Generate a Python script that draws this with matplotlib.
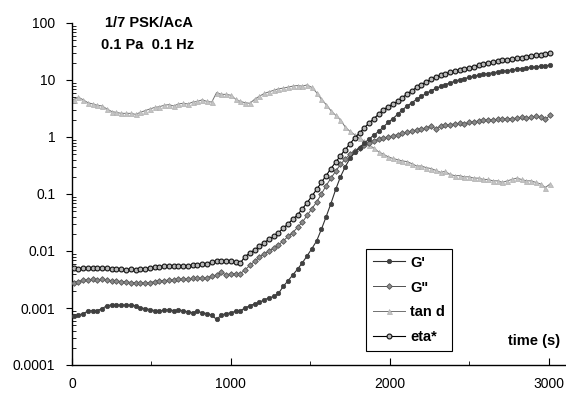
import matplotlib
matplotlib.use("Agg")
import matplotlib.pyplot as plt
from matplotlib.ticker import LogLocator, FixedLocator, NullFormatter

# --------------------------
# Data
# --------------------------
time_s = [10, 40, 70, 100, 130, 160, 190, 220, 250, 280,
          310, 340, 370, 400, 430, 460, 490, 520, 550, 580,
          610, 640, 670, 700, 730, 760, 790, 820, 850, 880,
          910, 940, 970, 1000, 1030, 1060, 1090, 1120, 1150, 1180,
          1210, 1240, 1270, 1300, 1330, 1360, 1390, 1420, 1450, 1480,
          1510, 1540, 1570, 1600, 1630, 1660, 1690, 1720, 1750, 1780,
          1810, 1840, 1870, 1900, 1930, 1960, 1990, 2020, 2050, 2080,
          2110, 2140, 2170, 2200, 2230, 2260, 2290, 2320, 2350, 2380,
          2410, 2440, 2470, 2500, 2530, 2560, 2590, 2620, 2650, 2680,
          2710, 2740, 2770, 2800, 2830, 2860, 2890, 2920, 2950, 2980,
          3010]

g_prime = [0.00072, 0.00075, 0.0008, 0.00088, 0.0009, 0.0009, 0.00098, 0.0011, 0.00113, 0.00113,
           0.00112, 0.00113, 0.00112, 0.0011, 0.001, 0.00098, 0.00094, 0.0009, 0.00088, 0.00092,
           0.00093, 0.0009, 0.00092, 0.0009, 0.00085, 0.00083, 0.00088, 0.00082, 0.0008, 0.00075,
           0.00063, 0.00075, 0.0008, 0.00082, 0.00088, 0.0009, 0.001, 0.0011, 0.00118, 0.00125,
           0.0014, 0.0015, 0.0016, 0.0018, 0.0024, 0.003, 0.0038, 0.0048, 0.0062, 0.0082,
           0.011, 0.015, 0.024, 0.04, 0.068, 0.12, 0.2, 0.3, 0.42, 0.54,
           0.65, 0.78, 0.92, 1.08, 1.25, 1.5, 1.8, 2.1, 2.5, 3.0,
           3.5, 4.0, 4.6, 5.2, 5.8, 6.5, 7.1, 7.7, 8.3, 8.9,
           9.5, 10.1, 10.6, 11.1, 11.6, 12.1, 12.6, 13.0, 13.4, 13.8,
           14.2, 14.6, 15.0, 15.4, 15.8, 16.2, 16.6, 17.0, 17.4, 17.8,
           18.2]

g_double = [0.0028, 0.0029, 0.0031, 0.0031, 0.0032, 0.0031, 0.0032, 0.0031, 0.003, 0.003,
            0.0029, 0.0029, 0.0028, 0.0028, 0.0028, 0.0027, 0.0028, 0.0029, 0.003, 0.003,
            0.0031, 0.0031, 0.0032, 0.0032, 0.0032, 0.0033, 0.0033, 0.0033, 0.0034, 0.0036,
            0.0038, 0.0042, 0.0038, 0.004, 0.004, 0.004, 0.0047, 0.0056, 0.0066, 0.0078,
            0.009, 0.01, 0.0112, 0.0128, 0.015, 0.018, 0.021, 0.026, 0.032, 0.042,
            0.055, 0.072, 0.1, 0.14, 0.19, 0.25, 0.33, 0.41, 0.5, 0.57,
            0.65, 0.72, 0.8, 0.86, 0.91, 0.96, 1.0, 1.05, 1.1, 1.17,
            1.22, 1.28, 1.33, 1.38, 1.45, 1.55, 1.4, 1.55, 1.6, 1.65,
            1.7, 1.75, 1.7, 1.8, 1.85, 1.9, 1.95, 2.0, 2.0, 2.05,
            2.05, 2.1, 2.1, 2.15, 2.2, 2.15, 2.2, 2.3, 2.2, 2.05,
            2.4]

tan_d = [4.5, 5.0, 4.5, 4.0, 3.8, 3.6, 3.5, 3.1, 2.8, 2.7,
         2.6, 2.6, 2.6, 2.5, 2.7, 2.9, 3.1, 3.3, 3.4, 3.6,
         3.7, 3.5, 3.8, 3.9, 3.8, 4.1, 4.2, 4.5, 4.2, 4.1,
         6.0, 5.6, 5.6, 5.4, 4.6, 4.2, 4.0, 3.9, 4.6, 5.2,
         5.8, 6.2, 6.6, 7.0, 7.2, 7.5, 7.8, 8.0, 7.8, 8.2,
         7.4, 6.0, 4.6, 3.7, 2.9, 2.4, 2.0, 1.5, 1.25, 1.1,
         0.95, 0.85, 0.72, 0.64, 0.55, 0.5, 0.45, 0.42, 0.4, 0.38,
         0.37, 0.34, 0.31, 0.31, 0.29, 0.28, 0.26, 0.24, 0.25, 0.22,
         0.21, 0.21, 0.2, 0.2, 0.19, 0.19, 0.18, 0.18, 0.17, 0.17,
         0.16, 0.17, 0.18, 0.19, 0.18, 0.17, 0.17, 0.16, 0.15, 0.13,
         0.15]

eta_star = [0.005, 0.0049, 0.005, 0.005, 0.005, 0.0051, 0.0051, 0.005, 0.0049, 0.0048,
            0.0048, 0.0047, 0.0048, 0.0046, 0.0048, 0.0049, 0.005, 0.0052, 0.0053, 0.0054,
            0.0054, 0.0055, 0.0055, 0.0055, 0.0055, 0.0056, 0.0056, 0.0058, 0.006, 0.0063,
            0.0066, 0.0068, 0.0066, 0.0066, 0.0064, 0.0062, 0.008, 0.0092, 0.0105, 0.012,
            0.014, 0.016, 0.018, 0.021, 0.025, 0.03, 0.036, 0.043, 0.055, 0.07,
            0.092, 0.12, 0.16, 0.21, 0.28, 0.36, 0.47, 0.6, 0.76, 0.96,
            1.18, 1.45, 1.75, 2.1, 2.5, 3.0, 3.4, 3.8, 4.2, 4.9,
            5.7, 6.5, 7.4, 8.3, 9.3, 10.3, 11.2, 12.0, 12.8, 13.7,
            14.4, 15.0, 15.6, 16.3, 17.2, 18.2, 19.3, 20.0, 20.6, 21.3,
            22.0, 22.6, 23.3, 24.0, 24.8, 25.6, 26.5, 27.3, 28.0, 28.8,
            29.5]

x_ticks = [0, 1000, 2000, 3000]
y_ticks = [0.0001, 0.001, 0.01, 0.1, 1, 10, 100]
y_labels = ["0.0001", "0.001", "0.01", "0.1", "1", "10", "100"]

# --------------------------
# Figure
# --------------------------
plt.rcParams['font.family'] = ['Liberation Sans', 'DejaVu Sans']

W, H = 566, 394
fig = plt.figure(figsize=(W / 100, H / 100), dpi=100)
ax = fig.add_axes([72 / W, 1 - 365 / H, (W - 72) / W, (365 - 23) / H])

ms = 3.2
ax.plot(time_s, tan_d, color='#707070', lw=0.7, marker='^', ms=ms + 0.4,
        mfc='#c4c4c4', mec='#b0b0b0', mew=0.5, label='tan d', zorder=2)
ax.plot(time_s, g_double, color='#505050', lw=0.7, marker='D', ms=ms - 0.3,
        mfc='#8a8a8a', mec='#555555', mew=0.6, label='G"', zorder=3)
ax.plot(time_s, g_prime, color='#303030', lw=0.8, marker='o', ms=ms,
        mfc='#404040', mec='#404040', mew=0.5, label="G'", zorder=4)
ax.plot(time_s, eta_star, color='#000000', lw=0.8, marker='o', ms=ms + 0.3,
        mfc='#b8b8b8', mec='#101010', mew=0.8, label='eta*', zorder=5)

ax.set_yscale('log')
ax.set_ylim(0.0001, 100)
ax.set_xlim(0, 3110)

for s in ['top', 'right']:
    ax.spines[s].set_visible(False)
ax.spines['left'].set_linewidth(1.0)
ax.spines['bottom'].set_linewidth(1.0)

ax.set_yticks(y_ticks)
ax.set_yticklabels(y_labels)
ax.yaxis.set_minor_locator(LogLocator(base=10, subs=range(2, 10), numticks=20))
ax.yaxis.set_minor_formatter(NullFormatter())
ax.tick_params(axis='y', which='major', direction='out', length=4, width=0.8,
               labelsize=10, pad=8)
ax.tick_params(axis='y', which='minor', direction='in', length=3, width=0.6)

ax.set_xticks(x_ticks)
ax.xaxis.set_minor_locator(FixedLocator([500, 1500, 2500]))
ax.tick_params(axis='x', which='major', direction='in', length=5, width=0.8,
               labelsize=10, pad=9)
ax.tick_params(axis='x', which='minor', direction='in', length=3, width=0.6)

# annotation texts
fig.text(105 / W, 1 - 23 / H, "1/7 PSK/AcA", fontsize=10.5, fontweight='bold',
         va='center', ha='left')
fig.text(101 / W, 1 - 45 / H, "0.1 Pa  0.1 Hz", fontsize=10.5, fontweight='bold',
         va='center', ha='left')
fig.text(560 / W, 1 - 341 / H, "time (s)", fontsize=10.5, fontweight='bold',
         va='center', ha='right')

# legend in original order
handles, labels = ax.get_legend_handles_labels()
order = [2, 1, 0, 3]
leg = ax.legend([handles[i] for i in order], [labels[i] for i in order],
                loc='upper left', bbox_to_anchor=((366 - 72) / (W - 72), (365 - 249) / (365 - 23)),
                frameon=True, fancybox=False, shadow=False, framealpha=1,
                edgecolor='black', prop={'weight': 'bold', 'size': 10.5},
                handlelength=2.2, handletextpad=0.4, labelspacing=0.75,
                borderpad=0.45, borderaxespad=0)
leg.get_frame().set_linewidth(0.8)

fig.savefig("out.png", dpi=100)
